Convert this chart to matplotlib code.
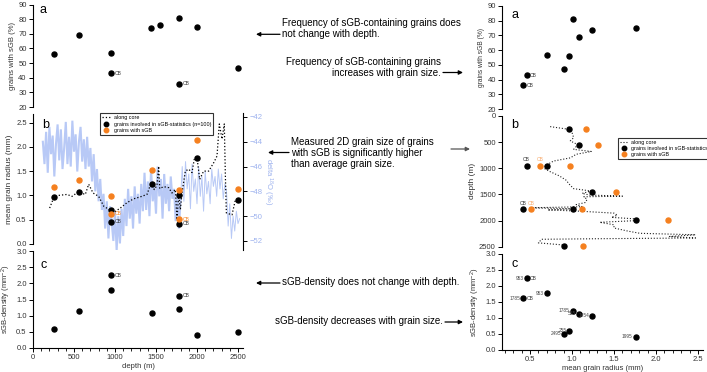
import matplotlib
matplotlib.use('Agg')
import matplotlib.pyplot as plt
from matplotlib.ticker import MultipleLocator

plt.rcParams['font.family'] = ['Liberation Sans', 'DejaVu Sans']
plt.rcParams['mathtext.fontset'] = 'custom'
plt.rcParams['mathtext.rm'] = 'Liberation Sans'
plt.rcParams['mathtext.it'] = 'Liberation Sans'

# ---------------- data ----------------
# panel a (left): fraction of grains with sGB vs depth
depth_a = [255, 555, 953, 953, 1440, 1545, 1785, 1785, 1995, 2495]
frac_a = [56, 69, 57, 43, 74, 76, 81, 36, 75, 47]
cb_a = [False, False, False, True, False, False, False, True, False, False]

# samples (panels b, c and right column)
samp_depth = [255, 555, 953, 953, 1454, 1785, 1785, 1995, 2495]
samp_cb = [False, False, False, True, False, False, True, False, False]
samp_frac = [56, 69, 57, 43, 74, 81, 36, 75, 47]
radius_all = [0.97, 1.08, 0.70, 0.46, 1.24, 1.01, 0.42, 1.76, 0.91]
radius_sgb = [1.17, 1.31, 0.98, 0.62, 1.52, 1.12, 0.51, 2.14, 1.13]
density = [0.60, 1.13, 1.78, 2.25, 1.07, 1.22, 1.62, 0.41, 0.51]

# mean grain radius along core
core_depth = [203, 252, 313, 415, 476, 549, 638, 679, 732, 801,
              862, 943, 1004, 1065, 1146, 1228, 1309, 1390, 1435, 1480,
              1512, 1533, 1545, 1593, 1654, 1695, 1736, 1756, 1776, 1797,
              1817, 1858, 1898, 1939, 1967, 2000, 2033, 2081, 2142, 2203,
              2244, 2272, 2305, 2333, 2346, 2358, 2407, 2427, 2467, 2495]
core_radius = [0.74, 0.95, 1.00, 1.02, 0.98, 1.07, 1.02, 1.23, 1.05, 0.98,
               0.78, 0.69, 0.67, 0.74, 0.85, 0.93, 0.97, 1.02, 1.23, 1.12,
               1.21, 1.60, 1.14, 1.18, 1.16, 1.05, 1.12, 0.50, 1.02, 0.71,
               1.05, 1.50, 1.54, 1.47, 1.75, 1.78, 1.33, 1.50, 1.50, 1.67,
               1.81, 2.47, 2.16, 2.47, 1.40, 0.64, 0.61, 0.60, 0.90, 0.91]

# delta 18O record
d18o_depth = [120, 140, 160, 180, 200, 220, 240, 260, 280, 300,
              320, 340, 360, 380, 400, 420, 440, 460, 480, 500,
              520, 540, 560, 580, 600, 620, 640,
              660, 680, 700, 720, 740, 760, 780, 800, 820,
              840, 860, 880, 900, 920, 940, 960, 980, 1000,
              1020, 1040, 1060, 1080, 1100,
              1120, 1140, 1160, 1180, 1200, 1220, 1240, 1260, 1280, 1300, 1320, 1340,
              1360, 1380, 1400, 1420, 1440, 1460, 1480, 1500, 1520, 1540,
              1560, 1580, 1600, 1620, 1640, 1660, 1680, 1700, 1720,
              1740, 1760, 1780, 1800,
              1820, 1840, 1860, 1880, 1900, 1920, 1940, 1960, 1980, 2000,
              2020, 2040, 2060, 2080, 2100, 2120, 2140, 2160, 2180, 2200,
              2220, 2240, 2260, 2280, 2300, 2320, 2340, 2360,
              2380, 2400, 2420, 2440, 2460, 2480, 2500, 2520]
d18o = [-44.0, -45.8, -43.2, -46.5, -42.8, -45.0, -43.5, -46.8, -44.2, -42.6,
        -45.5, -43.0, -46.2, -44.5, -42.4, -45.8, -43.6, -46.0, -42.3, -44.8,
        -43.4, -46.4, -44.0, -42.8, -45.6, -43.8, -46.2,
        -43.6, -46.0, -44.5, -47.2, -45.0, -48.0, -46.2, -48.8, -47.0,
        -49.5, -48.2, -51.0, -48.8, -51.8, -49.2, -50.5, -52.0, -49.6,
        -52.8, -50.0, -52.2, -49.4, -51.6,
        -48.6, -50.8, -47.8, -50.2, -48.4, -51.0, -47.6, -49.8, -48.2, -50.6, -47.4, -49.6,
        -46.5, -49.5, -47.2, -50.0, -46.2, -48.8, -47.6, -49.8, -46.0, -48.4,
        -47.0, -50.2, -46.6, -49.0, -47.4, -49.6, -46.8, -48.6, -47.8,
        -50.4, -48.2, -51.0, -48.6,
        -46.0, -48.8, -45.6, -47.8, -46.6, -49.4, -45.8, -48.0, -47.0, -49.0,
        -46.0, -48.4, -46.8, -49.6, -46.4, -48.2, -47.2, -49.0, -46.2, -47.6,
        -46.8, -48.4, -46.2, -47.8, -46.6, -48.6, -47.4, -48.0,
        -50.8, -49.0, -51.8, -50.0, -51.2, -49.6, -50.6, -50.2]

# ---------------- layout helpers ----------------
W, H = 707, 372
fig = plt.figure(figsize=(W / 100, H / 100), dpi=100)


def rect(x0, y0, x1, y1):
    return [x0 / W, 1 - y1 / H, (x1 - x0) / W, (y1 - y0) / H]


TICKC = '#333333'
BLUE = '#b8c9f6'
BLUE_TXT = '#9db2ee'
ORANGE = '#f5801f'
FS = 5.5
MS = 3.6


def style(ax, bottom=False):
    for s in ['top', 'right']:
        ax.spines[s].set_visible(False)
    ax.spines['bottom'].set_visible(bottom)
    for s in ax.spines.values():
        s.set_linewidth(0.8)
    ax.patch.set_visible(False)
    ax.tick_params(which='major', direction='out', length=3, width=0.7,
                   labelsize=FS, pad=1.5, labelcolor=TICKC)
    ax.tick_params(which='minor', direction='out', length=1.8, width=0.6)
    if not bottom:
        ax.tick_params(axis='x', which='both', bottom=False, labelbottom=False)


def cb_label(ax, x, y, dx=2.5, dy=0, color='#333333', ha='left', va='center'):
    ax.annotate('CB', (x, y), xytext=(dx, dy), textcoords='offset points',
                fontsize=3.6, color=color, ha=ha, va=va)


LX0, LX1 = 33, 243
LXLIM = (0, 2561)
RX0, RX1 = 502, 703
RXLIM = (0.1667, 2.56)

# ---------------- left a ----------------
ax = fig.add_axes(rect(LX0, 4.6, LX1, 107))
style(ax)
ax.set_xlim(*LXLIM)
ax.set_ylim(20, 90)
ax.yaxis.set_major_locator(MultipleLocator(10))
ax.plot(depth_a, frac_a, 'o', color='k', ms=MS, clip_on=False)
for d, f, c in zip(depth_a, frac_a, cb_a):
    if c:
        cb_label(ax, d, f)
ax.set_ylabel('grains with sGB (%)', fontsize=FS, labelpad=2, color=TICKC)

# ---------------- left b ----------------
axd = fig.add_axes(rect(LX0, 113, LX1, 250))
axd.set_xlim(*LXLIM)
axd.set_ylim(-52.73, -41.68)
for s in ['top', 'left', 'bottom']:
    axd.spines[s].set_visible(False)
axd.spines['right'].set_linewidth(0.8)
axd.patch.set_visible(False)
axd.yaxis.tick_right()
axd.yaxis.set_label_position('right')
axd.set_yticks([-52, -50, -48, -46, -44, -42])
axd.tick_params(axis='y', direction='out', length=3, width=0.7, labelsize=FS,
                pad=1.5, labelcolor=BLUE_TXT)
axd.tick_params(axis='x', bottom=False, labelbottom=False)
k = d18o_depth.index(1800) + 1
axd.plot(d18o_depth[:k], d18o[:k], color=BLUE, lw=1.5, solid_joinstyle='miter')
axd.plot(d18o_depth[k - 1:], d18o[k - 1:], color=BLUE, lw=0.7)
axd.set_ylabel('delta $^{18}$O (‰)', fontsize=FS, color=BLUE_TXT,
               rotation=270, labelpad=9)
axd.set_zorder(1)

ax = fig.add_axes(rect(LX0, 114, LX1, 244))
ax.set_zorder(2)
style(ax)
ax.set_xlim(*LXLIM)
ax.set_ylim(0, 2.675)
ax.yaxis.set_major_locator(MultipleLocator(0.5))
ax.yaxis.set_major_formatter(plt.FormatStrFormatter('%.1f'))
ax.plot(core_depth, core_radius, ':', color='k', lw=0.9, label='along core')
ax.plot(samp_depth, radius_all, 'o', color='k', ms=MS,
        label='grains involved in sGB-statistics (n=100)')
ax.plot(samp_depth, radius_sgb, 'o', color=ORANGE, ms=MS,
        label='grains with sGB')
for d, r1, r2, c in zip(samp_depth, radius_all, radius_sgb, samp_cb):
    if c:
        cb_label(ax, d, r1)
        cb_label(ax, d, r2, color=ORANGE)
ax.set_ylabel('mean grain radius (mm)', fontsize=6, labelpad=2, color=TICKC)
leg = ax.legend(loc='upper left', bbox_to_anchor=(0.305, 1.025), fontsize=3.9,
                frameon=True, fancybox=False, handlelength=1.6, handletextpad=0.6,
                borderpad=0.35, labelspacing=0.25, markerscale=0.9)
leg.get_frame().set_edgecolor('k')
leg.get_frame().set_linewidth(0.8)

# ---------------- left c ----------------
ax = fig.add_axes(rect(LX0, 251, LX1, 348))
style(ax, bottom=True)
ax.set_xlim(*LXLIM)
ax.set_ylim(0, 3)
ax.xaxis.set_major_locator(MultipleLocator(500))
ax.xaxis.set_minor_locator(MultipleLocator(100))
ax.yaxis.set_major_locator(MultipleLocator(0.5))
ax.yaxis.set_major_formatter(plt.FormatStrFormatter('%.1f'))
ax.plot(samp_depth, density, 'o', color='k', ms=MS)
for d, v, c in zip(samp_depth, density, samp_cb):
    if c:
        cb_label(ax, d, v)
ax.set_ylabel('sGB-density (mm$^{-2}$)', fontsize=FS, labelpad=2, color=TICKC)
ax.set_xlabel('depth (m)', fontsize=FS, labelpad=1, color=TICKC)

# ---------------- right a ----------------
ax = fig.add_axes(rect(RX0, 6, RX1, 109))
style(ax)
ax.set_xlim(*RXLIM)
ax.set_ylim(20, 90)
ax.yaxis.set_major_locator(MultipleLocator(10))
ax.plot(radius_all, samp_frac, 'o', color='k', ms=MS)
for r, f, c in zip(radius_all, samp_frac, samp_cb):
    if c:
        cb_label(ax, r, f)
ax.set_ylabel('grains with sGB (%)', fontsize=4.8, labelpad=2, color=TICKC)

# ---------------- right b ----------------
ax = fig.add_axes(rect(RX0, 116, RX1, 246.7))
style(ax)
ax.set_xlim(*RXLIM)
ax.set_ylim(2500, 0)
ax.yaxis.set_major_locator(MultipleLocator(500))
ax.plot(core_radius, core_depth, ':', color='#222222', lw=0.8, label='along core')
ax.plot(radius_all, samp_depth, 'o', color='k', ms=MS, clip_on=False,
        label='grains involved in sGB-statistics (n=100)')
ax.plot(radius_sgb, samp_depth, 'o', color=ORANGE, ms=MS, clip_on=False,
        label='grains with sGB')
for d, r1, r2, c in zip(samp_depth, radius_all, radius_sgb, samp_cb):
    if c:
        cb_label(ax, r1, d, dx=0, dy=2.5, ha='center', va='bottom')
        cb_label(ax, r2, d, dx=0, dy=2.5, ha='center', va='bottom', color='#f8a868')
ax.set_ylabel('depth (m)', fontsize=6, labelpad=2, color=TICKC)
leg = ax.legend(loc='upper left', bbox_to_anchor=(0.562, 0.855), fontsize=3.9,
                frameon=True, fancybox=False, handlelength=1.6, handletextpad=0.6,
                borderpad=0.35, labelspacing=0.25, markerscale=0.9)
leg.get_frame().set_edgecolor('k')
leg.get_frame().set_linewidth(0.8)

# ---------------- right c ----------------
ax = fig.add_axes(rect(RX0, 254, RX1, 350))
style(ax, bottom=True)
ax.set_xlim(*RXLIM)
ax.set_ylim(0, 3)
ax.xaxis.set_major_locator(MultipleLocator(0.5))
ax.xaxis.set_minor_locator(MultipleLocator(0.1))
ax.xaxis.set_major_formatter(plt.FormatStrFormatter('%.1f'))
ax.yaxis.set_major_locator(MultipleLocator(0.5))
ax.yaxis.set_major_formatter(plt.FormatStrFormatter('%.1f'))
ax.plot(radius_all, density, 'o', color='k', ms=MS)
for r, v, d, c in zip(radius_all, density, samp_depth, samp_cb):
    ax.annotate(str(d), (r, v), xytext=(-2.2, 0), textcoords='offset points',
                fontsize=3.4, color='#444444', ha='right', va='center')
    if c:
        cb_label(ax, r, v, dx=2.2)
ax.set_ylabel('sGB-density (mm$^{-2}$)', fontsize=FS, labelpad=2, color=TICKC)
ax.set_xlabel('mean grain radius (mm)', fontsize=FS, labelpad=1, color=TICKC)

# ---------------- annotations ----------------
ov = fig.add_axes([0, 0, 1, 1])
ov.set_xlim(0, W)
ov.set_ylim(H, 0)
ov.axis('off')
ov.set_zorder(10)
TFS = 7


def arrow(x_from, x_to, y, color='k'):
    ov.annotate('', xy=(x_to, y), xytext=(x_from, y),
                arrowprops=dict(arrowstyle='-|>', color=color, lw=0.9,
                                mutation_scale=6, shrinkA=0, shrinkB=0))


ov.text(282.5, 22.7, 'Frequency of sGB-containing grains does', fontsize=TFS,
        ha='left', va='center')
ov.text(282.5, 34.3, 'not change with depth.', fontsize=TFS, ha='left', va='center')
arrow(280, 256, 34.3)

ov.text(441, 62, 'Frequency of sGB-containing grains', fontsize=TFS,
        ha='right', va='center')
ov.text(441, 73, 'increases with grain size.', fontsize=TFS, ha='right', va='center')
arrow(443, 463, 72.5)

ov.text(291, 142.3, 'Measured 2D grain size of grains', fontsize=TFS,
        ha='left', va='center')
ov.text(291, 153.3, 'with sGB is significantly higher', fontsize=TFS,
        ha='left', va='center')
ov.text(291, 164.3, 'than average grain size.', fontsize=TFS, ha='left', va='center')
arrow(289, 268, 152.5)
arrow(451, 470, 149, color='#555555')

ov.text(282.5, 282.3, 'sGB-density does not change with depth.', fontsize=TFS,
        ha='left', va='center')
arrow(280, 256, 283)

ov.text(443, 321, 'sGB-density decreases with grain size.', fontsize=TFS,
        ha='right', va='center')
arrow(445, 463, 322)

for x, y, s in [(43, 10, 'a'), (46, 125, 'b'), (44, 265, 'c'),
                (515, 15, 'a'), (515, 125, 'b'), (515, 264, 'c')]:
    ov.text(x, y, s, fontsize=9, ha='center', va='center')

fig.savefig('out.png', dpi=100)
